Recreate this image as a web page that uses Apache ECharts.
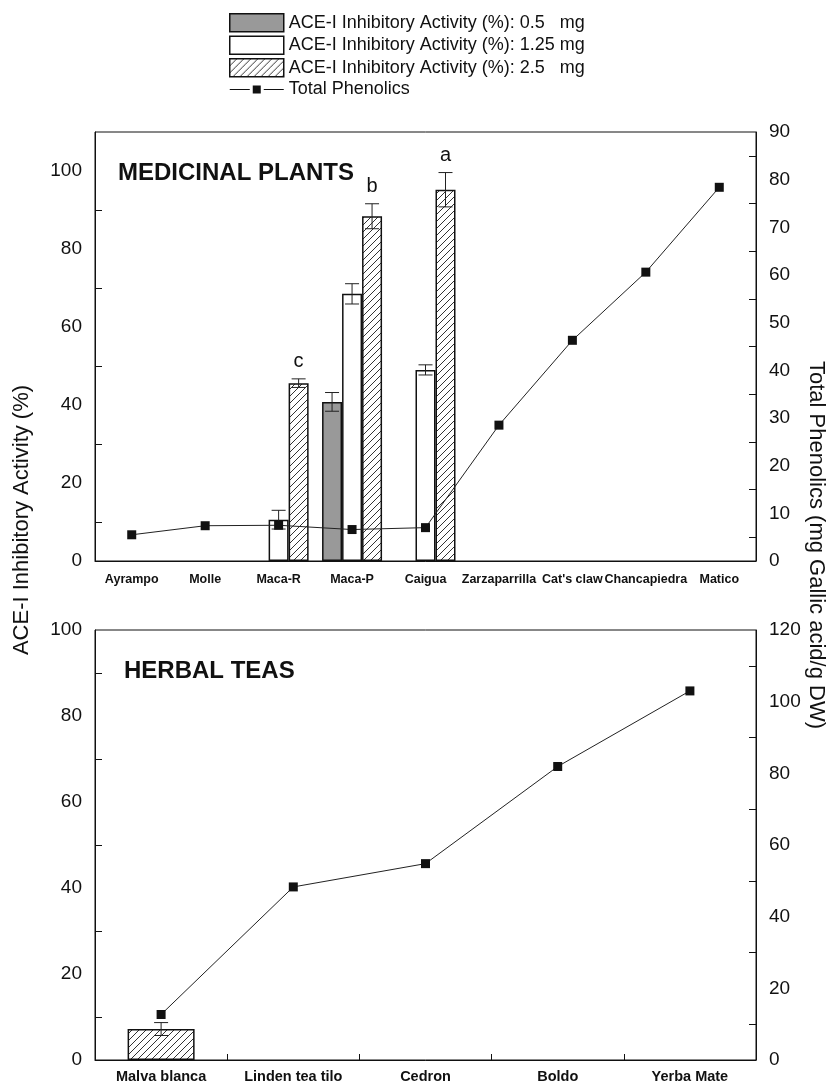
<!DOCTYPE html>
<html><head><meta charset="utf-8">
<script src="https://cdn.jsdelivr.net/npm/echarts@6/dist/echarts.min.js"></script>
<style>html,body{margin:0;padding:0;background:#fff}#c{width:837px;height:1086px}</style>
</head><body><div id="c"></div>
<script>
// ---- data ----
const topCategories = ['Ayrampo','Molle','Maca-R','Maca-P','Caigua','Zarzaparrilla',"Cat's claw",'Chancapiedra','Matico'];
const topAce05     = [null,null,null,40.8,null,null,null,null,null];
const topAce05Err  = [null,null,null,2.4,null,null,null,null,null];
const topAce125    = [null,null,10.6,68.5,49.0,null,null,null,null];
const topAce125Err = [null,null,2.4,2.6,1.3,null,null,null,null];
const topAce25     = [null,null,45.6,88.4,95.2,null,null,null,null];
const topAce25Err  = [null,null,1.1,3.2,4.4,null,null,null,null];
const topLetters   = [null,null,'c','b','a',null,null,null,null];
const topPhenolics = [5.5,7.4,7.5,6.6,7.0,28.5,46.3,60.6,78.4];

const bottomCategories = ['Malva blanca','Linden tea tilo','Cedron','Boldo','Yerba Mate'];
const bottomAce25    = [7.2,null,null,null,null];
const bottomAce25Err = [1.5,null,null,null,null];
const bottomPhenolics = [12.7,48.3,54.8,81.9,103.0];

// tick labels and tick marks
const topLeftLabels   = [0,20,40,60,80,100];
const topLeftTicks    = [10,30,50,70,90];
const topRightLabels  = [0,10,20,30,40,50,60,70,80,90];
const topRightTicks   = [5,15,25,35,45,55,65,75,85];
const botLeftLabels   = [0,20,40,60,80,100];
const botLeftTicks    = [10,30,50,70,90];
const botRightLabels  = [0,20,40,60,80,100,120];
const botRightTicks   = [10,30,50,70,90,110];
const topLeftRange = [0,110], topRightRange = [0,90], botLeftRange = [0,100], botRightRange = [0,120];

const S05 = 'ACE-I Inhibitory Activity (%): 0.5   mg';
const S125 = 'ACE-I Inhibitory Activity (%): 1.25 mg';
const S25 = 'ACE-I Inhibitory Activity (%): 2.5   mg';
const SP = 'Total Phenolics';

// ---- styles ----
function hatchCanvas(){
  const s=7, c=document.createElement('canvas'); c.width=s; c.height=s;
  const g=c.getContext('2d'); g.fillStyle='#fff'; g.fillRect(0,0,s,s);
  g.strokeStyle='#333'; g.lineWidth=1; g.beginPath();
  g.moveTo(0,s); g.lineTo(s,0);
  g.moveTo(-1,1); g.lineTo(1,-1);
  g.moveTo(s-1,s+1); g.lineTo(s+1,s-1);
  g.stroke(); return c;
}
const hatch = {image: hatchCanvas(), repeat:'repeat'};
const FONT = 'Liberation Sans, Arial, Helvetica, sans-serif';
const BW = 20; // bar width top

function errSeries(name, vals, errs, offset, xi, yi){
  const data=[];
  vals.forEach((v,i)=>{ if(v!=null && errs[i]!=null) data.push([i, v-errs[i], v+errs[i]]); });
  return {
    type:'custom', name:name, xAxisIndex:xi, yAxisIndex:yi, z:5, silent:true,
    encode:{x:0,y:[1,2]}, data:data,
    renderItem:function(params, api){
      const lo=api.coord([api.value(0), api.value(1)]);
      const hi=api.coord([api.value(0), api.value(2)]);
      const x=lo[0]+offset, hw=7;
      const st={stroke:'#222', lineWidth:1};
      return {type:'group', children:[
        {type:'line', shape:{x1:x,y1:lo[1],x2:x,y2:hi[1]}, style:st},
        {type:'line', shape:{x1:x-hw,y1:hi[1],x2:x+hw,y2:hi[1]}, style:st},
        {type:'line', shape:{x1:x-hw,y1:lo[1],x2:x+hw,y2:lo[1]}, style:st}
      ]};
    }
  };
}
function letterSeries(vals, errs, letters, offset){
  const data=[]; const txt=[];
  vals.forEach((v,i)=>{ if(letters[i]) { data.push([i, v+(errs[i]||0)]); txt.push(letters[i]); } });
  return {
    type:'custom', name:'letters', xAxisIndex:0, yAxisIndex:0, z:6, silent:true,
    encode:{x:0,y:1}, data:data,
    renderItem:function(params, api){
      const p=api.coord([api.value(0), api.value(1)]);
      return {type:'text', x:p[0]+offset, y:p[1]-7,
        style:{text:txt[params.dataIndex], font:'20px '+FONT, fill:'#111', align:'center', verticalAlign:'bottom', textAlign:'center', textVerticalAlign:'bottom'}};
    }
  };
}

const barBorder = {borderColor:'#111', borderWidth:1.5};
const valueAxis = (range, labels, ticks, pos, gi)=>({
  type:'value', gridIndex:gi, position:pos, min:range[0], max:range[1],
  axisLine:{show:true, lineStyle:{color:'#111', width:1}},
  axisTick:{show:true, inside:true, length:7, customValues:ticks, lineStyle:{color:'#111', width:1}},
  splitLine:{show:false},
  axisLabel:{color:'#111', fontSize:19, fontFamily:FONT, margin:13, customValues:labels}
});

const lineStyleP = {color:'#222', width:1};
const pIcon = 'path://M0,0 M54,18 M0,8.5h20v1h-20z M23,5h8v8h-8z M34,8.5h20v1h-20z';

const option = {
  animation:false,
  backgroundColor:'#fff',
  legend:{
    orient:'vertical', left:224, top:8, itemWidth:54, itemHeight:18, itemGap:3,
    textStyle:{fontSize:18, fontFamily:FONT, color:'#111'},
    selectedMode:false,
    data:[
      {name:S05, icon:'rect', itemStyle:{color:'#999', borderColor:'#111', borderWidth:1.5}},
      {name:S125, icon:'rect', itemStyle:{color:'#fff', borderColor:'#111', borderWidth:1.5}},
      {name:S25, icon:'rect', itemStyle:{color:hatch, borderColor:'#111', borderWidth:1.5}},
      {name:SP, icon:pIcon, itemStyle:{color:'#111', borderWidth:0}}
    ]
  },
  grid:[
    {left:95, right:81, top:132, height:429, show:true, borderColor:'#111', borderWidth:1, backgroundColor:'transparent'},
    {left:95, right:81, top:630, height:430, show:true, borderColor:'#111', borderWidth:1, backgroundColor:'transparent'}
  ],
  xAxis:[
    {type:'category', gridIndex:0, data:topCategories, boundaryGap:true,
     axisLine:{lineStyle:{color:'#111'}}, axisTick:{show:false},
     axisLabel:{interval:0, color:'#111', fontSize:12.5, fontWeight:'bold', fontFamily:FONT, margin:12}},
    {type:'category', gridIndex:1, data:bottomCategories, boundaryGap:true,
     axisLine:{lineStyle:{color:'#111'}}, axisTick:{show:true, inside:true, length:6, lineStyle:{color:'#111'}},
     axisLabel:{interval:0, color:'#111', fontSize:14.5, fontWeight:'bold', fontFamily:FONT, margin:9}}
  ],
  yAxis:[
    valueAxis(topLeftRange, topLeftLabels, topLeftTicks, 'left', 0),
    valueAxis(topRightRange, topRightLabels, topRightTicks, 'right', 0),
    valueAxis(botLeftRange, botLeftLabels, botLeftTicks, 'left', 1),
    valueAxis(botRightRange, botRightLabels, botRightTicks, 'right', 1)
  ],
  graphic:[
    {type:'text', left:118, top:161, style:{text:'MEDICINAL PLANTS', font:'bold 24px '+FONT, fill:'#111'}},
    {type:'text', left:124, top:659, style:{text:'HERBAL TEAS', font:'bold 24px '+FONT, fill:'#111'}},
    {type:'text', x:22, y:520, rotation:Math.PI/2,
     style:{text:'ACE-I Inhibitory Activity (%)', font:'22px '+FONT, fill:'#111', x:0, y:0, align:'center', verticalAlign:'middle', textAlign:'center', textVerticalAlign:'middle'}},
    {type:'text', x:816, y:545, rotation:-Math.PI/2,
     style:{text:'Total Phenolics (mg Gallic acid/g DW)', font:'22px '+FONT, fill:'#111', x:0, y:0, align:'center', verticalAlign:'middle', textAlign:'center', textVerticalAlign:'middle'}}
  ],
  series:[
    {type:'bar', name:S05, xAxisIndex:0, yAxisIndex:0, data:topAce05, barWidth:BW, barGap:'0%',
     itemStyle:Object.assign({color:'#999'}, barBorder)},
    {type:'bar', name:S125, xAxisIndex:0, yAxisIndex:0, data:topAce125, barWidth:BW, barGap:'0%',
     itemStyle:Object.assign({color:'#fff'}, barBorder)},
    {type:'bar', name:S25, xAxisIndex:0, yAxisIndex:0, data:topAce25, barWidth:BW, barGap:'0%',
     itemStyle:Object.assign({color:hatch}, barBorder)},
    errSeries('e05', topAce05, topAce05Err, -BW, 0, 0),
    errSeries('e125', topAce125, topAce125Err, 0, 0, 0),
    errSeries('e25', topAce25, topAce25Err, BW, 0, 0),
    letterSeries(topAce25, topAce25Err, topLetters, BW),
    {type:'line', name:SP, xAxisIndex:0, yAxisIndex:1, data:topPhenolics, z:10,
     symbol:'rect', symbolSize:9, itemStyle:{color:'#111'}, lineStyle:lineStyleP},

    {type:'bar', name:S25, xAxisIndex:1, yAxisIndex:2, data:bottomAce25, barWidth:67,
     itemStyle:Object.assign({color:hatch}, barBorder)},
    errSeries('e25b', bottomAce25, bottomAce25Err, 0, 1, 2),
    {type:'line', name:SP, xAxisIndex:1, yAxisIndex:3, data:bottomPhenolics, z:10,
     symbol:'rect', symbolSize:9, itemStyle:{color:'#111'}, lineStyle:lineStyleP}
  ]
};
const chart = echarts.init(document.getElementById('c'), null, {renderer:'canvas'});
chart.setOption(option);
</script>
</body></html>
